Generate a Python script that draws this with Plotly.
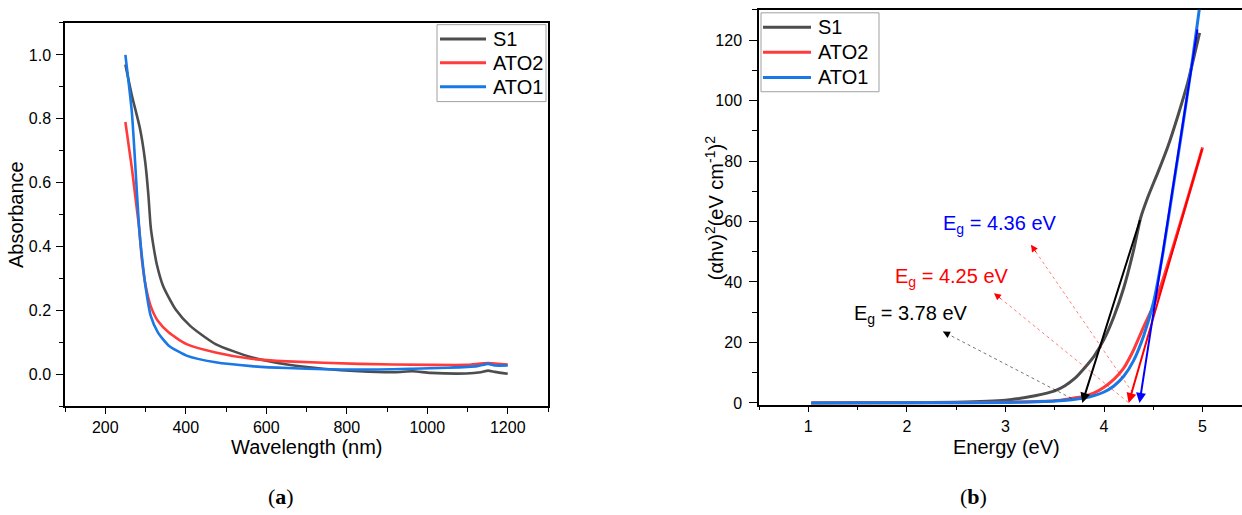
import plotly.graph_objects as go

W, H = 1242, 515

# ---------------- (a) absorbance spectra ----------------
wl_s1 = [250, 266, 286, 299, 307, 313, 320, 328, 344, 375, 411, 474, 563, 652,
         741, 830, 919, 964, 1008, 1097, 1133, 1151, 1168, 1200]
abs_s1 = [0.97, 0.874, 0.771, 0.668, 0.564, 0.461, 0.40, 0.345, 0.276, 0.203,
          0.152, 0.095, 0.054, 0.031, 0.018, 0.010, 0.007, 0.010, 0.005, 0.003,
          0.007, 0.012, 0.008, 0.002]

wl_ato2 = [250, 266, 277, 284, 291, 300, 313, 331, 358, 402, 474, 563, 652,
           830, 1008, 1097, 1151, 1200]
abs_ato2 = [0.79, 0.647, 0.533, 0.461, 0.36, 0.28, 0.214, 0.167, 0.131, 0.095,
            0.069, 0.049, 0.041, 0.033, 0.030, 0.030, 0.036, 0.031]

wl_ato1 = [250, 266, 274, 284, 291, 300, 313, 331, 358, 402, 474, 563, 652,
           830, 964, 1052, 1124, 1151, 1168, 1200]
abs_ato1 = [1.0, 0.822, 0.668, 0.461, 0.37, 0.276, 0.183, 0.131, 0.090, 0.059,
            0.038, 0.026, 0.020, 0.015, 0.018, 0.021, 0.026, 0.033, 0.028, 0.028]

# ---------------- (b) Tauc plot ----------------
e_s1 = [1.03, 1.5, 2.0, 2.5, 3.0, 3.3, 3.5, 3.6, 3.7, 3.8, 3.9, 4.0, 4.1, 4.2,
        4.3, 4.37, 4.45, 4.55, 4.65, 4.75, 4.85, 4.97]
t_s1 = [0, 0.02, 0.05, 0.2, 0.9, 2.4, 4.0, 5.6, 8.0, 11.5, 15.5, 21, 28.5, 38,
        50.5, 61, 68.5, 76.5, 85, 95, 106, 122.4]

e_ato2 = [1.03, 2.0, 2.5, 3.0, 3.5, 3.8, 3.9, 4.0, 4.1, 4.2, 4.3, 4.4, 4.5,
          4.6, 4.7, 4.8, 4.9, 5.0]
t_ato2 = [0, 0.03, 0.08, 0.2, 0.7, 2.2, 3.3, 5.2, 7.8, 11.5, 17.5, 25, 32,
          41, 51.5, 62.3, 73.3, 84.5]

e_ato1 = [1.03, 2.0, 2.5, 3.0, 3.5, 3.8, 3.9, 4.0, 4.1, 4.2, 4.3, 4.4, 4.5,
          4.6, 4.7, 4.8, 4.9, 4.97]
t_ato1 = [0, 0.02, 0.06, 0.15, 0.6, 1.6, 2.4, 3.6, 5.6, 8.8, 14, 22, 33,
          50, 71, 92, 114, 131]

# band-gap extrapolation lines: x-intercept (Eg) and upper end
eg_values = [3.78, 4.25, 4.36]
fit_top_x = [4.37, 5.0, 4.95]
fit_top_y = [61, 84.5, 124]
fit_colors = ["#000000", "#ff0000", "#0000ff"]

# Eg labels and their pointer lines
label_text = ["E<sub>g</sub> = 3.78 eV", "E<sub>g</sub> = 4.25 eV", "E<sub>g</sub> = 4.36 eV"]
label_x = [2.04, 2.46, 2.94]
label_y = [29.2, 41.6, 58.9]
label_colors = ["#000000", "#ff0000", "#0000ff"]
ptr_head_x = [2.366, 2.884, 3.259]
ptr_head_y = [23.6, 36.3, 52.3]
ptr_tail_x = [3.67, 4.245, 4.29]
ptr_tail_y = [1.5, 0.2, 3.4]
ptr_line_colors = ["rgba(0,0,0,0.55)", "rgba(255,0,0,0.5)", "rgba(255,0,0,0.5)"]
ptr_head_colors = ["#000000", "#ff0000", "#ff0000"]

names = ["S1", "ATO2", "ATO1"]
colors = ["#4d4d4d", "#ff3b3b", "#1a78e6"]

FONT = "Liberation Sans, Arial, sans-serif"
SERIF = "Liberation Serif, Times New Roman, serif"


def px(x):
    return x / W


def py(y):
    return 1 - y / H


fig = go.Figure()

for wl, ab, name, col in zip([wl_s1, wl_ato2, wl_ato1], [abs_s1, abs_ato2, abs_ato1], names, colors):
    fig.add_trace(go.Scatter(x=wl, y=ab, name=name, mode="lines", showlegend=False,
                             line=dict(color=col, width=2.6, shape="spline", smoothing=0.6),
                             xaxis="x", yaxis="y"))

for ee, tt, name, col in zip([e_s1, e_ato2, e_ato1], [t_s1, t_ato2, t_ato1], names, colors):
    fig.add_trace(go.Scatter(x=ee, y=tt, name=name, mode="lines", showlegend=False,
                             line=dict(color=col, width=3, shape="spline", smoothing=0.5),
                             xaxis="x2", yaxis="y2"))

# dotted pointer lines from the intercepts to the labels
for tx, ty, hx, hy, lc in zip(ptr_tail_x, ptr_tail_y, ptr_head_x, ptr_head_y, ptr_line_colors):
    fig.add_trace(go.Scatter(x=[tx, hx], y=[ty, hy], mode="lines", showlegend=False,
                             line=dict(color=lc, width=1, dash="dot"),
                             xaxis="x2", yaxis="y2", hoverinfo="skip"))

annotations = []
shapes = []

# extrapolated linear fits with arrowheads at the x-intercept
for eg, fx, fy, fc in zip(eg_values, fit_top_x, fit_top_y, fit_colors):
    annotations.append(dict(x=eg, y=0, ax=fx, ay=fy, xref="x2", yref="y2",
                            axref="x2", ayref="y2", text="", showarrow=True,
                            arrowhead=2, arrowsize=1.0, arrowwidth=2,
                            arrowcolor=fc, standoff=0))
# arrowheads of the pointer lines
for tx, ty, hx, hy, hc in zip(ptr_tail_x, ptr_tail_y, ptr_head_x, ptr_head_y, ptr_head_colors):
    annotations.append(dict(x=hx, y=hy, ax=hx + 0.06 * (tx - hx), ay=hy + 0.06 * (ty - hy),
                            xref="x2", yref="y2", axref="x2", ayref="y2", text="",
                            showarrow=True, arrowhead=2, arrowsize=1.4, arrowwidth=1,
                            arrowcolor=hc, standoff=0))
# Eg labels
for txt, lx, ly, lc in zip(label_text, label_x, label_y, label_colors):
    annotations.append(dict(x=lx, y=ly, xref="x2", yref="y2", text=txt, showarrow=False,
                            font=dict(family=FONT, size=20, color=lc),
                            xanchor="center", yanchor="middle"))

# axis titles
axis_titles = [
    ("Wavelength (nm)", 307, 453, 0),
    ("Absorbance", 16, 218, -90),
    ("Energy (eV)", 1006, 453, 0),
    ("(\u03b1h\u03bd)<sup>2</sup>(eV cm<sup>-1</sup>)<sup>2</sup>", 714, 211, -90),
]
for txt, cx, cy, ang in axis_titles:
    annotations.append(dict(x=px(cx), y=py(cy), xref="paper", yref="paper", text=txt,
                            showarrow=False, textangle=ang,
                            font=dict(family=FONT, size=20, color="black"),
                            xanchor="center", yanchor="middle"))

# panel letters
for letter, cx in zip(["a", "b"], [281, 973]):
    annotations.append(dict(x=px(cx), y=py(503), xref="paper", yref="paper",
                            text="(<b>" + letter + "</b>)", showarrow=False,
                            font=dict(family=SERIF, size=22, color="black"),
                            xanchor="center", yanchor="middle"))

# legends (box, line sample, label) for both panels
legend_boxes = [
    dict(box=(437, 25, 546, 103), sample=(440, 486), text_x=491, rows=[39.5, 63.5, 88]),
    dict(box=(761, 13, 879, 93), sample=(763, 811), text_x=816, rows=[27.5, 53, 78.5]),
]
for lg in legend_boxes:
    x0, y0, x1, y1 = lg["box"]
    shapes.append(dict(type="rect", xref="paper", yref="paper",
                       x0=px(x0), x1=px(x1), y0=py(y1), y1=py(y0),
                       line=dict(color="#a0a0a0", width=1), fillcolor="white", layer="above"))
    for name, col, ry in zip(names, colors, lg["rows"]):
        shapes.append(dict(type="line", xref="paper", yref="paper",
                           x0=px(lg["sample"][0]), x1=px(lg["sample"][1]),
                           y0=py(ry), y1=py(ry), line=dict(color=col, width=3), layer="above"))
        annotations.append(dict(x=px(lg["text_x"]), y=py(ry), xref="paper", yref="paper",
                                text=name, showarrow=False,
                                font=dict(family=FONT, size=20, color="black"),
                                xanchor="left", yanchor="middle"))

axis_common = dict(showline=True, linecolor="black", linewidth=1.5, showgrid=False,
                   zeroline=False, ticks="outside", tickwidth=1.3,
                   tickcolor="black", tickfont=dict(family=FONT, size=16, color="black"))


def minor(dt, ln):
    return dict(dtick=dt, ticks="outside", ticklen=ln, tickwidth=1.3,
                tickcolor="black", showgrid=False)


fig.update_layout(
    width=W, height=H,
    margin=dict(l=0, r=0, t=0, b=0),
    paper_bgcolor="white", plot_bgcolor="white",
    font=dict(family=FONT, color="black"),
    showlegend=False,
    xaxis=dict(domain=[px(65), px(548)], range=[100, 1300], dtick=200, tick0=0,
               mirror=True, anchor="y", minor=minor(100, 3.5), ticklen=6,
               **axis_common),
    yaxis=dict(domain=[py(412), py(23.3)], range=[-0.1, 1.1], dtick=0.2, tick0=0,
               tickformat=".1f", mirror=True, anchor="x", minor=minor(0.1, 4),
               ticklen=7, ticklabelstandoff=2,
               **axis_common),
    xaxis2=dict(domain=[px(759), 1.0], range=[0.5, 5.4], dtick=1, tick0=0,
                mirror=True, anchor="y2", minor=minor(0.5, 3.5), layer="below traces",
                ticklen=6, **axis_common),
    yaxis2=dict(domain=[py(410.3), py(10)], range=[-0.6, 130], dtick=20, tick0=0,
                mirror=False, anchor="x2", minor=minor(10, 5), ticklen=8,
                ticklabelstandoff=4, **axis_common),
    annotations=annotations,
    shapes=shapes,
)

fig.write_html("out.html")
